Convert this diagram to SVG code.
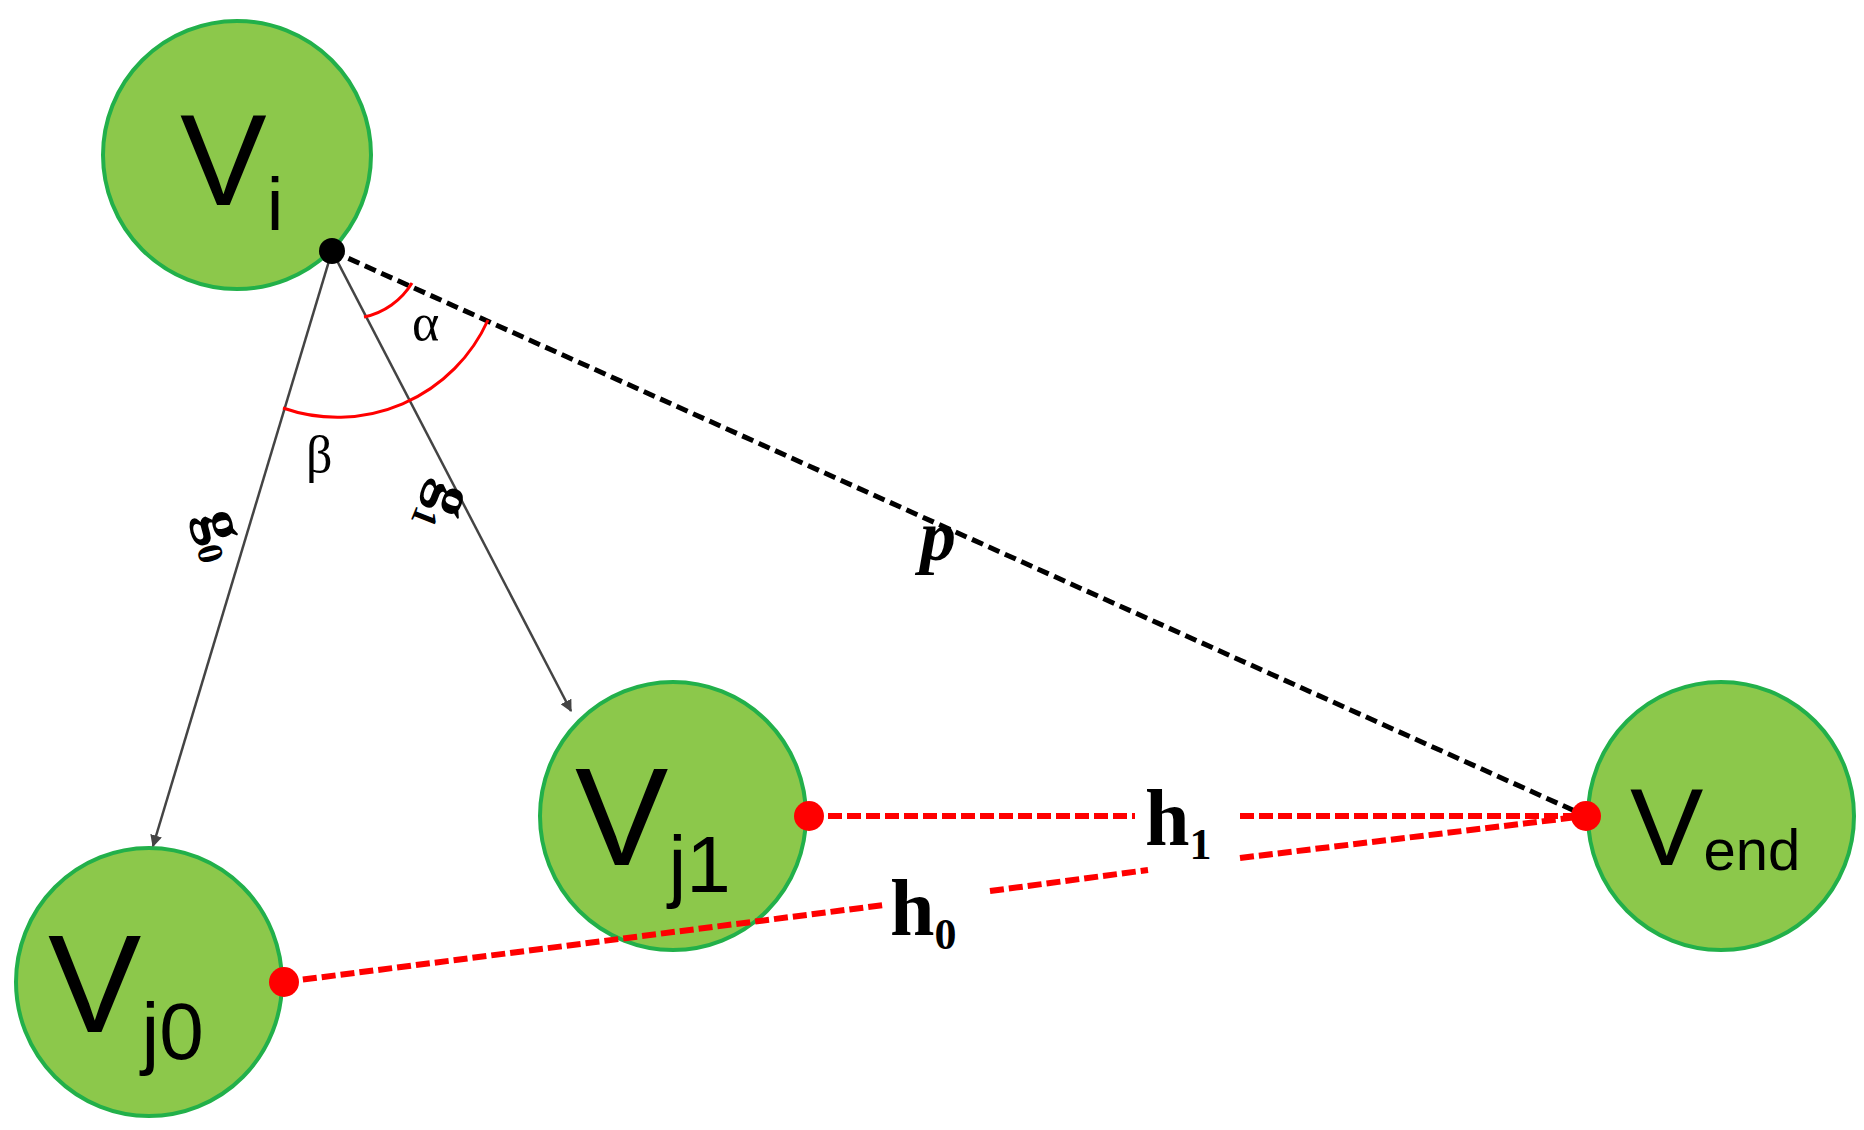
<svg xmlns="http://www.w3.org/2000/svg" width="1864" height="1130" viewBox="0 0 1864 1130">
<defs>
<style>
.node{fill:#8cc84b;stroke:#22b04a;stroke-width:4}
.nl{font-family:"Liberation Sans",sans-serif;fill:#000}
.math{font-family:"Liberation Serif",serif;fill:#000}
.red{stroke:#ff0000;stroke-width:6;stroke-dasharray:14 5;fill:none}
</style>
<marker id="ah" viewBox="0 0 10 10" refX="9" refY="5" markerWidth="12" markerHeight="12" markerUnits="userSpaceOnUse" orient="auto"><path d="M0,0L10,5L0,10z" fill="#444"/></marker>
</defs>
<rect width="1864" height="1130" fill="#fff"/>
<g id="Vi"><ellipse class="node" cx="237" cy="155" rx="134" ry="134"/><text class="nl" x="180" y="205" font-size="130">V<tspan font-size="75" dy="25">i</tspan></text></g>
<g id="Vj1"><ellipse class="node" cx="673" cy="816" rx="133" ry="134"/><text class="nl" x="575" y="865" font-size="140">V<tspan font-size="80" dy="27">j1</tspan></text></g>
<g id="Vj0"><ellipse class="node" cx="149" cy="982" rx="133" ry="134"/><text class="nl" x="48" y="1032" font-size="140">V<tspan font-size="80" dy="27">j0</tspan></text></g>
<g id="Vend"><ellipse class="node" cx="1721" cy="816" rx="133" ry="134"/><text class="nl" x="1630" y="865" font-size="110">V<tspan font-size="58" dy="5">end</tspan></text></g>
<g id="connectors">
<line x1="332" y1="251" x2="1586" y2="816" stroke="#000" stroke-width="5" stroke-dasharray="12 6"/>
<line x1="332" y1="251" x2="153" y2="846" stroke="#444" stroke-width="2.5" marker-end="url(#ah)"/>
<line x1="332" y1="251" x2="571" y2="711" stroke="#444" stroke-width="2.5" marker-end="url(#ah)"/>
<line class="red" x1="809" y1="816" x2="1135" y2="816"/>
<line class="red" x1="1240" y1="816" x2="1586" y2="816"/>
<line class="red" x1="284" y1="982" x2="884" y2="905"/>
<line class="red" x1="990" y1="891" x2="1148" y2="870"/>
<line class="red" x1="1240" y1="858" x2="1586" y2="816"/>
<path d="M364,317 A74,74 0 0 0 412,283" fill="none" stroke="#ff0000" stroke-width="3"/>
<path d="M283,408 A165,165 0 0 0 488,320" fill="none" stroke="#ff0000" stroke-width="3"/>
<circle cx="332" cy="251" r="13" fill="#000"/>
<circle cx="809" cy="816" r="15" fill="#ff0000"/>
<circle cx="284" cy="982" r="15" fill="#ff0000"/>
<circle cx="1586" cy="816" r="15" fill="#ff0000"/>
</g>
<g id="labels">
<text class="math" x="412" y="340" font-size="52">α</text>
<text class="math" x="306" y="472" font-size="52">β</text>
<text class="math" font-size="62" font-weight="bold" transform="translate(200,515) rotate(75)">g<tspan font-size="36" dy="12">0</tspan></text>
<text class="math" font-size="62" font-weight="bold" transform="translate(440,480) rotate(112)">g<tspan font-size="36" dy="12">1</tspan></text>
<text class="math" x="920" y="560" font-size="72" font-weight="bold" font-style="italic">p</text>
<text class="math" x="1145" y="845" font-size="80" font-weight="bold">h<tspan font-size="44" dy="14">1</tspan></text>
<text class="math" x="890" y="935" font-size="80" font-weight="bold">h<tspan font-size="44" dy="14">0</tspan></text>
</g>
</svg>
